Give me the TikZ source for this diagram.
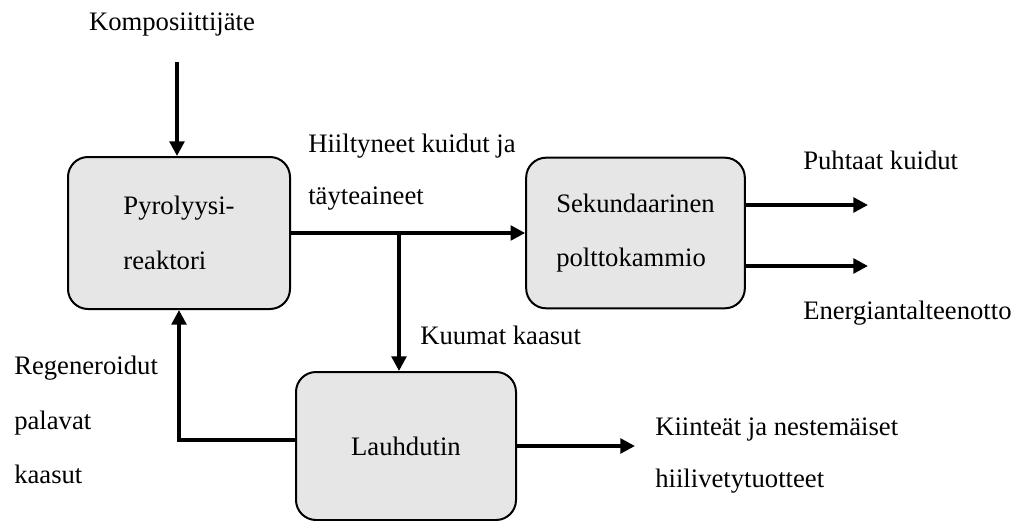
\documentclass[tikz,border=0pt]{standalone}
\usepackage{fontspec}
\setmainfont{Liberation Serif}
\usetikzlibrary{arrows.meta}

\tikzset{
  prosessi/.style={draw, line width=1.5pt, fill={rgb, 255:red, 230; green, 230; blue, 230}, rounded corners=15pt, align=left, inner sep=0pt},
  virta/.style={line width=2.6pt, -{Triangle[length=11pt,width=11pt]}},
  selite/.style={anchor=west, align=left, inner sep=0pt},
}

\begin{document}
\begin{tikzpicture}[x=0.75pt,y=0.75pt,yscale=-1,xscale=1,font=\fontsize{20}{41}\selectfont]
\useasboundingbox (0,0) rectangle (1022,521);

%Shape: Rounded Rect
\node[prosessi, minimum width=166.5pt, minimum height=114pt] (reaktori) at (179,233) {Pyrolyysi-\\reaktori};
%Shape: Rounded Rect
\node[prosessi, minimum width=164pt, minimum height=113pt] (kammio) at (635.5,233) {Sekundaarinen\\polttokammio};
%Shape: Rounded Rect
\node[prosessi, minimum width=165pt, minimum height=111pt] (lauhdutin) at (406,446) {Lauhdutin};

%Straight Lines
\coordinate (syotto) at (177,62);
\draw[virta] (syotto) -- (syotto |- reaktori.north);
%Straight Lines
\coordinate (haara) at (399,233);
\draw[virta] (reaktori.east) -- (kammio.west);
\draw[virta] (haara) -- (haara |- lauhdutin.north);
%Straight Lines
\coordinate (kuidut) at (868,205);
\coordinate (energia) at (868,266);
\draw[virta] (kammio.east |- kuidut) -- (kuidut);
\draw[virta] (kammio.east |- energia) -- (energia);
%Straight Lines
\coordinate (tuotteet) at (635,446);
\draw[virta] (lauhdutin.east) -- (tuotteet);
\draw[virta] ([yshift=-4.5pt]lauhdutin.west) -| (reaktori.south);

% Text Node
\node[selite, anchor=center] (syote) at (172,25) {Komposiittijäte};
% Text Node
\node[selite] (hiili) at (308,172) {Hiiltyneet kuidut ja\\[-2pt]täyteaineet};
% Text Node
\node[selite] (kuumat) at (420,335) {Kuumat kaasut};
% Text Node
\node[selite] (puhtaat) at (803,160) {Puhtaat kuidut};
% Text Node
\node[selite] (talteen) at (803,313) {Energiantalteenotto};
% Text Node
\node[selite] (hiilivety) at (655,456) {Kiinteät ja nestemäiset\\[-2pt]hiilivetytuotteet};
% Text Node
\node[selite] (regen) at (14,420) {Regeneroidut\\palavat\\kaasut};

\end{tikzpicture}
\end{document}
